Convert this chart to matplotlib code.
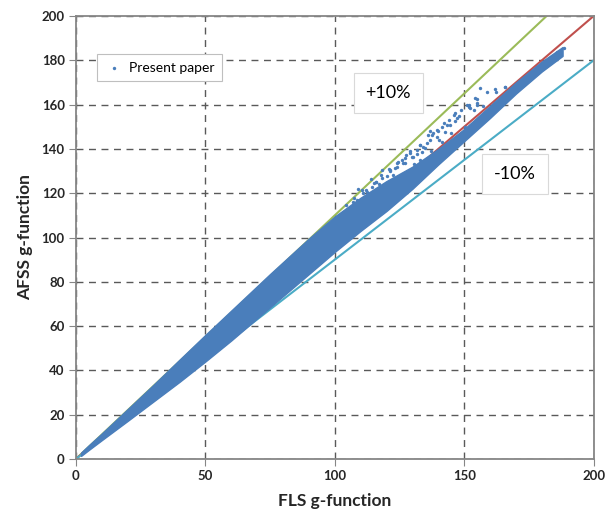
import matplotlib.pyplot as plt
import numpy as np

plt.rcParams['font.family'] = ['Lato', 'DejaVu Sans']

# dense core of the cloud (envelope)
band_x = [2, 5, 10, 20, 30, 40, 50, 60, 75, 90, 100, 110, 120, 130, 140, 150, 160, 170, 180, 188]
band_lo = [1.4, 4.1, 8.5, 17.2, 26, 34.8, 44, 53.5, 68.5, 83.5, 93.5, 103, 112, 122, 133, 143.5, 154, 165, 175, 182]
band_hi = [2.9, 6.2, 11.5, 22.5, 33.5, 44.8, 56, 67, 83.5, 99.5, 109.5, 118, 125.5, 132, 140, 149, 159.5, 170, 179.5, 186]

# scattered points above the core
pts_x = [165.6, 162.4, 158.8, 154.9, 154.9, 151.7, 153.6, 146.6, 147.2, 144.0,
         143.3, 141.4, 139.4, 142.7, 136.2, 139.4, 136.8, 132.9, 134.9, 131.6,
         129.0, 127.7, 130.3, 125.8, 123.9, 121.3, 122.6, 118.1, 116.1, 114.2,
         111.0, 108.4, 105.8, 103.2, 154.3, 151.7, 154.9, 165.9, 152.3, 137.5,
         140.1, 134.2, 133.6, 129.7, 127.1, 134.2, 188.4, 186.0, 183.0, 178.5,
         156.2, 161.8, 151.1, 157.3, 146.0, 148.6, 142.1, 146.6, 138.1, 140.0,
         136.8, 133.0, 135.6, 129.0, 131.6, 126.5, 124.5, 121.4, 123.4, 118.2,
         115.8, 113.9, 110.7, 108.8, 106.9, 104.3, 120.0, 117.0, 112.5, 107.5,
         118.0, 121.0, 124.0, 127.0, 112.0, 115.0, 126.0, 133.0, 141.4, 145.0,
         150.4, 137.0, 130.5, 144.5, 148.0]
pts_y = [167.8, 165.8, 165.8, 162.4, 160.6, 159.1, 157.6, 156.1, 153.8, 153.1,
         150.8, 150.1, 148.6, 147.8, 146.3, 145.5, 144.0, 141.8, 140.3, 139.5,
         138.0, 137.3, 136.5, 135.0, 132.0, 130.5, 128.3, 126.8, 125.2, 123.0,
         119.9, 116.9, 113.2, 110.9, 162.8, 159.8, 159.8, 167.8, 158.3, 146.3,
         144.1, 141.0, 138.7, 136.5, 133.5, 133.5, 185.6, 183.8, 181.0, 176.8,
         167.4, 166.9, 159.8, 159.2, 155.3, 157.6, 151.5, 152.4, 147.0, 147.9,
         148.0, 141.8, 142.5, 138.9, 137.6, 133.5, 134.0, 130.0, 131.2, 130.4,
         125.0, 126.3, 121.4, 122.0, 116.0, 114.8, 127.8, 124.0, 120.5, 117.8,
         128.0, 131.0, 133.5, 136.0, 121.5, 124.5, 128.0, 135.0, 143.3, 147.0,
         150.0, 139.0, 133.0, 151.0, 155.0]

ref_x = [0, 200]
blue = '#4A7EBB'

fig = plt.figure(figsize=(6.07, 5.22), dpi=100)
ax = fig.add_axes([0.125, 0.1207, 0.853, 0.8486])

ax.plot(ref_x, [1.1 * v for v in ref_x], color='#9BBB59', lw=1.5, zorder=2)
ax.plot(ref_x, ref_x, color='#C0504D', lw=1.5, zorder=2)
ax.plot(ref_x, [0.9 * v for v in ref_x], color='#4BACC6', lw=1.5, zorder=2)

ax.fill_between(band_x, band_lo, band_hi, color=blue, lw=1, zorder=3)
ax.scatter(pts_x, pts_y, s=6, marker='o', color=blue, lw=0, zorder=4,
           label='Present paper')

ax.set_xlim(0, 200)
ax.set_ylim(0, 200)
ax.set_xticks([0, 50, 100, 150, 200])
ax.set_yticks(np.arange(0, 201, 20))
ax.grid(True, color='#595959', ls=(0, (5, 4)), lw=1)
ax.set_axisbelow(True)
for s in ax.spines.values():
    s.set_color('#868686')
    s.set_linewidth(1.3)
ax.tick_params(length=5, color='#868686', labelsize=9.5, labelcolor='#262626', pad=3)
for lab in ax.get_xticklabels() + ax.get_yticklabels():
    lab.set_fontweight('bold')

ax.set_xlabel('FLS g-function', fontsize=12.5, fontweight='bold', color='#262626', labelpad=8)
ax.set_ylabel('AFSS g-function', fontsize=12.5, fontweight='bold', color='#262626', labelpad=6)

leg = ax.legend(loc='upper left', bbox_to_anchor=(0.04, 0.914), fontsize=10,
                fancybox=False, framealpha=1, edgecolor='#BFBFBF', markerscale=1.0,
                handletextpad=0.4, borderpad=0.55, handlelength=1.4, borderaxespad=0)
leg.get_frame().set_linewidth(0.8)

box = dict(boxstyle='square,pad=0.65', fc='white', ec='#D9D9D9', lw=0.8)
ax.text(120.6, 165.2, '+10%', fontsize=13, ha='center', va='center', bbox=box, zorder=5)
ax.text(169.6, 128.7, '-10%', fontsize=13, ha='center', va='center', bbox=box, zorder=5)

fig.savefig('out.png', dpi=100)
